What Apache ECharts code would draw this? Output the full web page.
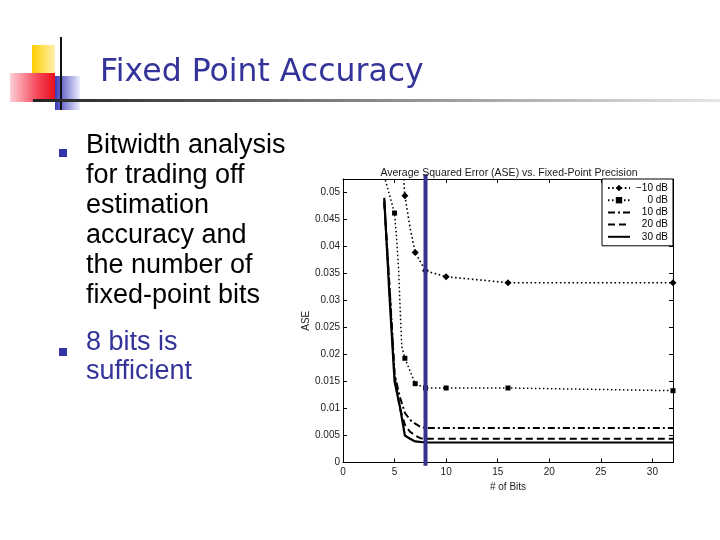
<!DOCTYPE html>
<html>
<head>
<meta charset="utf-8">
<script src="https://cdn.jsdelivr.net/npm/echarts@6/dist/echarts.min.js"></script>
<style>
html,body{margin:0;padding:0;background:#fff;}
#c{width:720px;height:540px;}
</style>
</head>
<body>
<div id="c"></div>
<script>
// ---- data ----
const slideTitle = "Fixed Point Accuracy";
const bullet1 = ["Bitwidth analysis", "for trading off", "estimation", "accuracy and", "the number of", "fixed-point bits"];
const bullet2 = ["8 bits is", "sufficient"];
const chartTitle = "Average Squared Error (ASE) vs. Fixed-Point Precision";
const xName = "# of Bits";
const yName = "ASE";
const seriesNames = ["\u221210 dB", "0 dB", "10 dB", "20 dB", "30 dB"];

const bitsM10 = [5, 6, 6.5, 7, 7.5, 8, 10, 16, 32];
const aseM10  = [0.075, 0.0494, 0.0435, 0.0389, 0.0372, 0.0355, 0.0344, 0.0333, 0.0333];

const bits0 = [4, 5, 5.2, 5.4, 5.55, 5.7, 6, 7, 8, 10, 16, 32];
const ase0  = [0.053, 0.0462, 0.0415, 0.0355, 0.028, 0.0215, 0.0193, 0.0146, 0.0138, 0.0138, 0.0138, 0.0133];

const bits10 = [4, 4.5, 5, 5.5, 6, 6.5, 7, 7.5, 8, 10, 16, 32];
const ase10  = [0.048, 0.033, 0.0165, 0.0122, 0.0092, 0.0079, 0.0072, 0.0066, 0.0064, 0.0064, 0.0064, 0.0064];

const bits20 = [4, 4.5, 5, 5.5, 6, 6.5, 7, 7.5, 8, 10, 16, 32];
const ase20  = [0.0485, 0.0325, 0.0160, 0.0102, 0.0070, 0.0057, 0.0050, 0.0045, 0.0044, 0.0044, 0.0044, 0.0044];

const bits30 = [4, 4.5, 5, 5.5, 6, 6.5, 7, 8, 10, 16, 32];
const ase30  = [0.049, 0.031, 0.0150, 0.0105, 0.0050, 0.0044, 0.0039, 0.0037, 0.0037, 0.0037, 0.0037];

const markerBits = [4, 5, 6, 7, 8, 10, 16, 32];
const chosenBits = 8;
const chosenSpan = [-0.0006, 0.0534];

const xTickStep = 5, yTickStep = 0.005;
const xMax = 32, yMax = 0.0525;

// ---- build ----
function pairs(xs, ys){ return xs.map((x,i)=>[x, ys[i]]); }
const markSize = (s)=> (v)=> markerBits.indexOf(v[0]) >= 0 ? s : 0;

const chart = echarts.init(document.getElementById('c'), null, {renderer:'canvas'});
const axisFont = {fontFamily:'"Liberation Sans", Arial, sans-serif', fontSize:10, color:'#1a1a1a'};
const navy = '#333399';

const slideGraphics = [
  // logo blocks
  {type:'rect', shape:{x:32,y:45,width:23,height:31}, style:{fill:new echarts.graphic.LinearGradient(0,0,1,0,[{offset:0,color:'#ffcc00'},{offset:1,color:'#fff2b0'}])}},
  {type:'rect', shape:{x:10,y:73,width:45,height:29}, style:{fill:new echarts.graphic.LinearGradient(0,0,1,0,[{offset:0,color:'#ffd0d8'},{offset:0.6,color:'#f5485a'},{offset:1,color:'#e8101e'}])}},
  {type:'rect', shape:{x:55,y:76,width:25,height:34}, style:{fill:new echarts.graphic.LinearGradient(0,0,1,0,[{offset:0,color:'#3a3ab8'},{offset:1,color:'#eeeeff'}])}},
  {type:'rect', shape:{x:60,y:37,width:2,height:73}, style:{fill:'#111'}},
  {type:'rect', shape:{x:33,y:99,width:687,height:3}, style:{fill:new echarts.graphic.LinearGradient(0,0,1,0,[{offset:0,color:'#222'},{offset:0.5,color:'#8a8a8a'},{offset:1,color:'#e6e6e6'}])}},
  {type:'text', style:{text:slideTitle, x:100, y:72.5, font:'31.5px "DejaVu Sans", Verdana, sans-serif', fill:navy, verticalAlign:'middle'}},
  // bullets
  {type:'rect', shape:{x:59,y:149,width:8,height:8}, style:{fill:'#3333aa'}},
  {type:'rect', shape:{x:59,y:348,width:8,height:8}, style:{fill:'#3333aa'}}
];
bullet1.forEach((t,i)=>slideGraphics.push({type:'text', style:{text:t, x:86, y:145.5+30*i, font:'27px "Liberation Sans", Arial, sans-serif', fill:'#000', verticalAlign:'middle'}}));
bullet2.forEach((t,i)=>slideGraphics.push({type:'text', style:{text:t, x:86, y:343+29*i, font:'27px "Liberation Sans", Arial, sans-serif', fill:navy, verticalAlign:'middle'}}));

const tickStyle = {show:true, inside:true, length:4, lineStyle:{color:'#000', width:1}};
const lineAx = {show:true, onZero:false, lineStyle:{color:'#000', width:1}};
const noMarker = {opacity:0};

const option = {
  animation:false,
  backgroundColor:'#fff',
  title:{text:chartTitle, left:504, top:163, textAlign:'center',
    textStyle:{fontFamily:'"Liberation Sans", Arial, sans-serif', fontSize:10.5, fontWeight:'normal', color:'#1a1a1a'}},
  grid:{left:343, right:47, top:179, bottom:77.5, containLabel:false},
  legend:{
    data:[
      {name:seriesNames[0]},
      {name:seriesNames[1]},
      {name:seriesNames[2], itemStyle:noMarker},
      {name:seriesNames[3], itemStyle:noMarker},
      {name:seriesNames[4], itemStyle:noMarker}
    ],
    orient:'vertical', left:602, top:179,
    padding:[4,5,4,5], itemGap:2.2, itemWidth:22, itemHeight:8,
    backgroundColor:'#fff', borderColor:'#000', borderWidth:1, borderRadius:0,
    formatter:(n)=>'{r|' + n + '}',
    textStyle:{fontFamily:'"Liberation Sans", Arial, sans-serif', fontSize:10, color:'#000', lineHeight:10,
      rich:{r:{width:33, align:'right', fontFamily:'"Liberation Sans", Arial, sans-serif', fontSize:10, color:'#000', lineHeight:10}}}
  },
  xAxis:[
    {type:'value', min:0, max:xMax, interval:xTickStep, position:'bottom',
     axisLine:lineAx, axisTick:tickStyle, splitLine:{show:false},
     axisLabel:Object.assign({margin:5, formatter:(v)=> v % xTickStep === 0 ? String(v) : ''}, axisFont),
     name:xName, nameLocation:'middle', nameGap:13, nameTextStyle:axisFont},
    {type:'value', min:0, max:xMax, interval:xTickStep, position:'top',
     axisLine:lineAx, axisTick:tickStyle, splitLine:{show:false}, axisLabel:{show:false}}
  ],
  yAxis:[
    {type:'value', min:0, max:yMax, interval:yTickStep, position:'left',
     axisLine:lineAx, axisTick:tickStyle, splitLine:{show:false},
     axisLabel:Object.assign({margin:3, formatter:(v)=>{ const k = Math.round(v/yTickStep); return Math.abs(k*yTickStep - v) < 1e-9 ? String(+v.toFixed(3)) : ''; }}, axisFont),
     name:yName, nameLocation:'middle', nameGap:28, nameTextStyle:axisFont},
    {type:'value', min:0, max:yMax, interval:yTickStep, position:'right',
     axisLine:lineAx, axisTick:tickStyle, splitLine:{show:false}, axisLabel:{show:false}}
  ],
  series:[
    {name:seriesNames[0], type:'line', data:pairs(bitsM10, aseM10), symbol:'diamond', symbolSize:markSize(7), showSymbol:true,
     itemStyle:{color:'#000'}, lineStyle:{color:'#000', width:1.6, type:[1.6,2.6]}, z:3},
    {name:seriesNames[1], type:'line', data:pairs(bits0, ase0), symbol:'rect', symbolSize:markSize(5), showSymbol:true,
     itemStyle:{color:'#000'}, lineStyle:{color:'#000', width:1.5, type:[1.5,2.5]}, z:3},
    {name:seriesNames[2], type:'line', data:pairs(bits10, ase10), symbol:'none',
     itemStyle:{color:'#000'}, lineStyle:{color:'#000', width:2, type:[7,3,2,3]}, z:3},
    {name:seriesNames[3], type:'line', data:pairs(bits20, ase20), symbol:'none',
     itemStyle:{color:'#000'}, lineStyle:{color:'#000', width:2, type:[7,4]}, z:3},
    {name:seriesNames[4], type:'line', data:pairs(bits30, ase30), symbol:'none',
     itemStyle:{color:'#000'}, lineStyle:{color:'#000', width:2.2, type:'solid'}, z:3},
    {name:'chosen', type:'line', data:chosenSpan.map(y=>[chosenBits, y]), symbol:'none', clip:false,
     lineStyle:{color:'#35358e', width:4}, z:5, silent:true}
  ],
  graphic:slideGraphics
};
chart.setOption(option);
</script>
</body>
</html>
